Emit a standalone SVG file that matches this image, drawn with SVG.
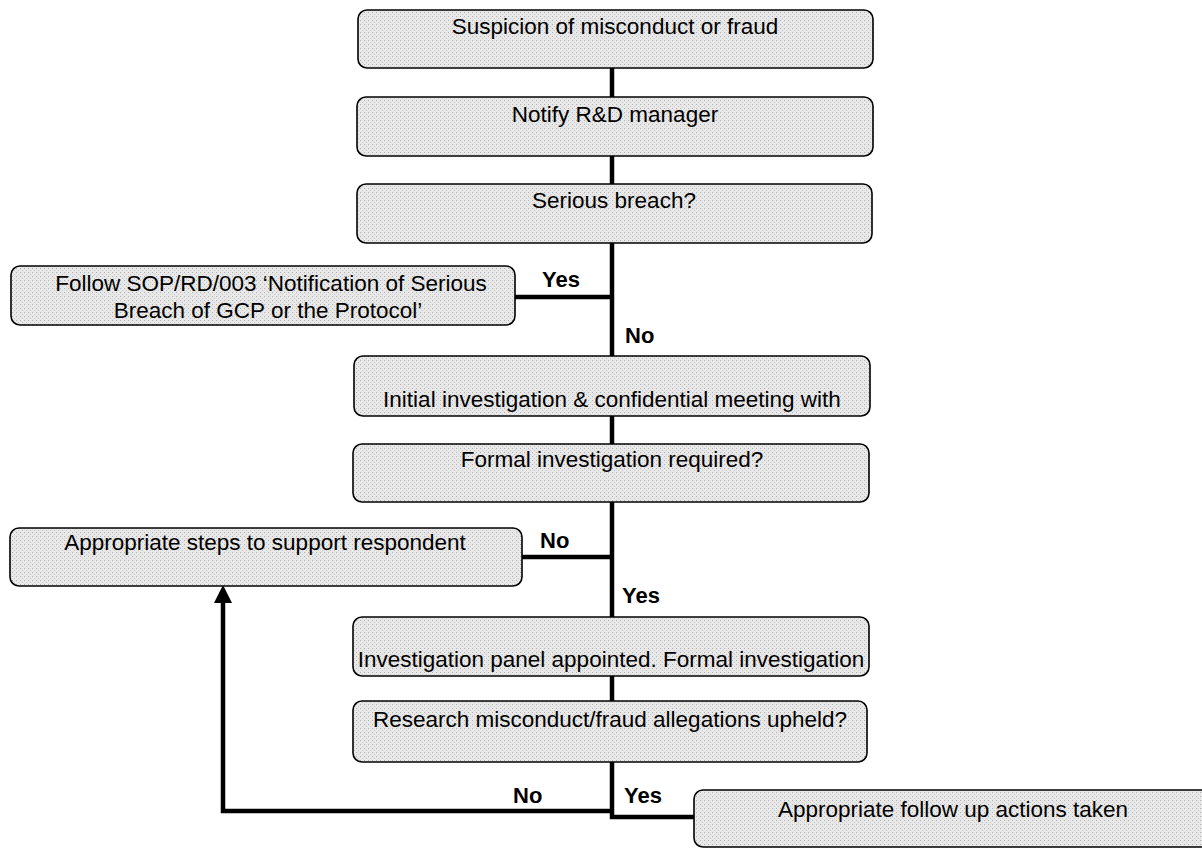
<svg xmlns="http://www.w3.org/2000/svg" width="1202" height="849" viewBox="0 0 1202 849">
<defs>
<pattern id="stip" width="4" height="4" patternUnits="userSpaceOnUse">
<rect width="4" height="4" fill="#e8e8e8"/>
<rect x="0" y="0" width="1" height="1" fill="#b0b0b0"/>
<rect x="2" y="2" width="1" height="1" fill="#c8c8c8"/>
</pattern>
</defs>
<style>
.box{fill:url(#stip);stroke:#000;stroke-width:1.6}
.t{font-family:"Liberation Sans",Arial,sans-serif;font-size:22.5px;fill:#000;text-anchor:middle}
.lb{font-family:"Liberation Sans",Arial,sans-serif;font-size:22px;font-weight:bold;fill:#000}
.ln{stroke:#000;stroke-width:4.5;fill:none}
</style>
<rect width="1202" height="849" fill="#fff"/>
<g id="connectors">
<line class="ln" x1="612" y1="68" x2="612" y2="97"/>
<line class="ln" x1="612" y1="156" x2="612" y2="184"/>
<line class="ln" x1="612" y1="243" x2="612" y2="356"/>
<line class="ln" x1="515" y1="297" x2="614" y2="297"/>
<line class="ln" x1="612" y1="416" x2="612" y2="444"/>
<line class="ln" x1="612" y1="502" x2="612" y2="617"/>
<line class="ln" x1="522" y1="557" x2="614" y2="557"/>
<line class="ln" x1="612" y1="676" x2="612" y2="701"/>
<line class="ln" x1="612" y1="762" x2="612" y2="819"/>
<line class="ln" x1="610" y1="817" x2="694" y2="817"/>
<polyline class="ln" points="614,811 223,811 223,600"/>
<path d="M214,603 L223,585 L232,603 Z" fill="#000"/>
<text class="lb" x="542" y="287">Yes</text>
<text class="lb" x="625" y="343">No</text>
<text class="lb" x="540" y="548">No</text>
<text class="lb" x="622" y="603">Yes</text>
<text class="lb" x="513" y="803">No</text>
<text class="lb" x="624" y="803">Yes</text>
</g>
<g id="n1"><rect class="box" x="358" y="10" width="515" height="58" rx="9"/><text class="t" x="615" y="34">Suspicion of misconduct or fraud</text></g>
<g id="n2"><rect class="box" x="357" y="97" width="516" height="59" rx="9"/><text class="t" x="615" y="122">Notify R&amp;D manager</text></g>
<g id="n3"><rect class="box" x="357" y="184" width="515" height="59" rx="9"/><text class="t" x="614" y="208">Serious breach?</text></g>
<g id="n4"><rect class="box" x="11" y="266" width="504" height="59" rx="9"/><text class="t" x="271" y="291">Follow SOP/RD/003 ‘Notification of Serious</text><text class="t" x="268" y="318">Breach of GCP or the Protocol’</text></g>
<g id="n5"><rect class="box" x="354" y="356" width="516" height="60" rx="9"/><text class="t" x="612" y="407">Initial investigation &amp; confidential meeting with</text></g>
<g id="n6"><rect class="box" x="353" y="444" width="516" height="58" rx="9"/><text class="t" x="612" y="467">Formal investigation required?</text></g>
<g id="n7"><rect class="box" x="10" y="528" width="512" height="58" rx="9"/><text class="t" x="265" y="550">Appropriate steps to support respondent</text></g>
<g id="n8"><rect class="box" x="353" y="617" width="516" height="59" rx="9"/><text class="t" x="611" y="667">Investigation panel appointed. Formal investigation</text></g>
<g id="n9"><rect class="box" x="353" y="701" width="514" height="61" rx="9"/><text class="t" x="610" y="727">Research misconduct/fraud allegations upheld?</text></g>
<g id="n10"><rect class="box" x="694" y="790" width="516" height="57" rx="9"/><text class="t" x="953" y="817">Appropriate follow up actions taken</text></g>
</svg>
